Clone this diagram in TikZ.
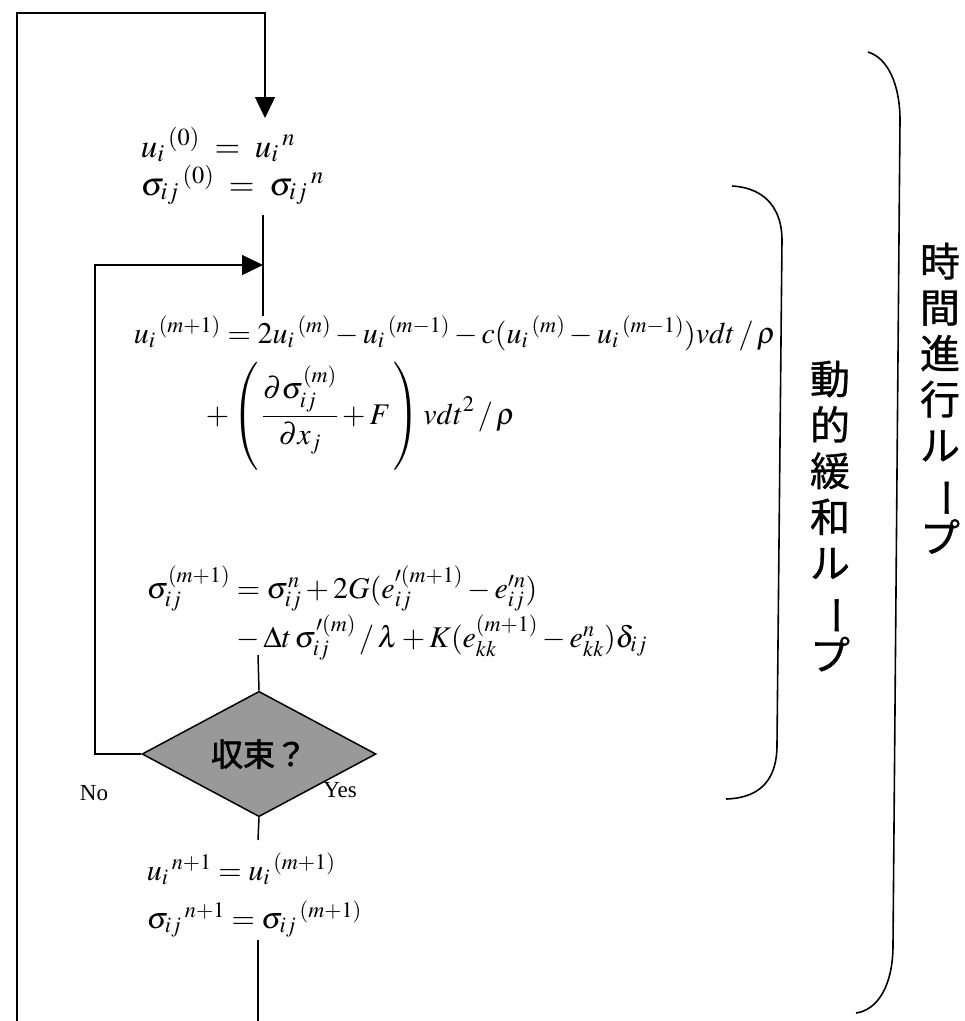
\documentclass[tikz,border=0pt]{standalone}
\usepackage{mathptmx}
\usepackage{fontspec}
\setmainfont{Liberation Serif}
\newfontfamily\jp[FakeBold=0.8]{Noto Sans CJK JP}
\newfontfamily\jpb[FakeBold=2]{Noto Sans CJK JP}
\usetikzlibrary{shapes.geometric,arrows.meta}
\newcommand{\vbar}{\rotatebox[origin=c]{-90}{ー}}
\begin{document}
\begin{tikzpicture}[x=1pt,y=-1pt,line width=1.5pt,
  eq/.style={inner sep=0pt,font=\fontsize{30}{36}\selectfont},
  eqb/.style={inner sep=0pt,font=\fontsize{33}{38}\selectfont},
  lab/.style={inner sep=0pt,font=\fontsize{23}{26}\selectfont},
  arr/.style={-{Triangle[length=21pt,width=20pt]}},
  decide/.style={diamond,draw,line width=1.5pt,fill=black!40,minimum width=234pt,
    minimum height=66pt,inner sep=0pt,font=\jpb\fontsize{32}{32}\selectfont},
  vtext/.style={align=center,inner sep=0pt,font=\jp\fontsize{40}{46}\selectfont},
  brace/.style={line width=1.6pt}]
\useasboundingbox (0,0) rectangle (965,1021);

% formulas
\node[eqb,anchor=base west] (i1) at (140,157) {$u_{i}\,{}^{(0)} \;=\; u_{i}\,{}^{n}$};
\node[eqb,anchor=base west] (i2) at (140,195) {$\sigma_{ij}\,{}^{(0)} \;=\; \sigma_{ij}\,{}^{n}$};

\node[eq,anchor=base west] (e1) at (133,343)
 {$u_{i}\,{}^{(m+1)} = 2u_{i}\,{}^{(m)} - u_{i}\,{}^{(m-1)} - c(u_{i}\,{}^{(m)} - u_{i}\,{}^{(m-1)})v dt\,/\,\rho$};
\node[eq,anchor=base west] (e2) at (205,424)
 {$\displaystyle +\left(\,\frac{\partial\sigma_{ij}^{(m)}}{\partial x_{j}} + F\,\right) v dt^{2}\,/\,\rho$};

\node[eq,anchor=base west] (s1) at (146,598) {$\sigma_{ij}^{(m+1)}$};
\node[eq,anchor=base west] (s2) at (236,598)
 {$= \sigma_{ij}^{n} + 2G(e_{ij}^{\prime(m+1)} - e_{ij}^{\prime n})$};
\node[eq,anchor=base west] (s3) at (236,647)
 {$-\,\Delta t\,\sigma_{ij}^{\prime(m)}\,/\,\lambda + K(e_{kk}^{(m+1)} - e_{kk}^{n})\delta_{ij}$};

\node[eq,anchor=base west] (f1) at (146,880) {$u_{i}\,{}^{n+1} = u_{i}\,{}^{(m+1)}$};
\node[eq,anchor=base west] (f2) at (146,928) {$\sigma_{ij}\,{}^{n+1} = \sigma_{ij}\,{}^{(m+1)}$};

% decision
\node[decide] (dec) at (259,754) {収束？};
\node[lab] (no) at (94,793) {No};
\node[lab] (yes) at (340,790) {Yes};

% coordinates
\coordinate (tl) at (17,13);
\coordinate (bl) at (17,1021);
\coordinate (a1) at (265,118);
\coordinate (j1) at (263,265);
\coordinate (c1) at (263,215);
\coordinate (c2) at (263,316);
\coordinate (lp) at (95,265);
\coordinate (c3) at (258,655);
\coordinate (c4) at (258,840);
\coordinate (c5) at (258,940);
\coordinate (c6) at (258,1021);

% connectors
\draw[arr] (bl) -- (tl) -- (tl -| a1) -- (a1);
\draw (c1) -- (c2);
\draw[arr] (dec.west) -| (lp) -- (j1);
\draw (c3) -- (dec.north);
\draw (dec.south) -- (c4);
\draw (c5) -- (c6);

% brackets
\draw[brace] (732,186) .. controls (768,188) and (782,212) .. (782,240) -- (777,745)
  .. controls (777,780) and (760,798) .. (726,799);
\draw[brace] (868,52) .. controls (888,58) and (900,85) .. (900,120) -- (893,945)
  .. controls (893,985) and (878,1010) .. (856,1013);

% vertical labels
\node[vtext,anchor=north] (inner) at (830,360) {動\\的\\緩\\和\\ル\\\vbar\\プ};
\node[vtext,anchor=north] (outer) at (940,242) {時\\間\\進\\行\\ル\\\vbar\\プ};
\end{tikzpicture}
\end{document}
